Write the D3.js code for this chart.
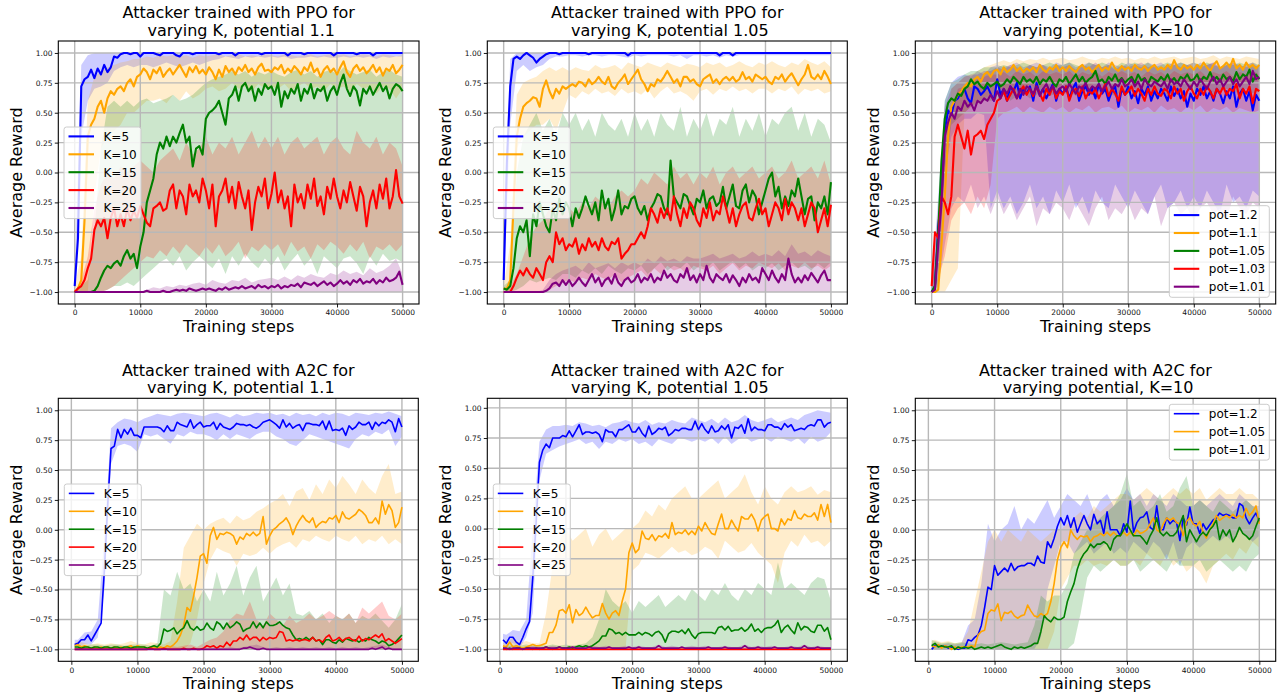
<!DOCTYPE html>
<html>
<head>
<meta charset="utf-8">
<script src="https://cdn.jsdelivr.net/npm/d3@7"></script>
<style>
  body { margin: 0; background: #fff; }
  svg { display: block; }
  text { font-family: "DejaVu Sans", sans-serif; }
</style>
</head>
<body>
<svg id="chart" width="1279" height="696"></svg>
<script>
// ---- x positions (training steps) ----
const ppoSteps = d3.range(0, 50001, 500);           // PPO mean curves
const ppoBandSteps = d3.range(0, 50001, 1000);      // PPO min/max bands
const a2cSteps = d3.range(500, 50001, 500);         // A2C mean curves
const a2cBandSteps = [500].concat(d3.range(1000, 50001, 1000)); // A2C bands

const xTicks = [0, 10000, 20000, 30000, 40000, 50000];
const yTicks = [-1, -0.75, -0.5, -0.25, 0, 0.25, 0.5, 0.75, 1];

const kLabels = ["K=5", "K=10", "K=15", "K=20", "K=25"];
const ppoPotLabels = ["pot=1.2", "pot=1.1", "pot=1.05", "pot=1.03", "pot=1.01"];
const a2cPotLabels = ["pot=1.2", "pot=1.05", "pot=1.01"];

// ---- PPO, varying K, potential 1.1 ----
const ppo11_k5 = [
-0.95,-0.55,0.72,0.78,0.8,0.86,0.79,0.87,0.82,0.9,
0.84,0.88,0.97,0.96,0.99,1,1,0.99,1,1,
0.97,1,1,1,1,0.99,0.98,1,1,1,
1,0.98,0.97,1,1,1,0.99,1,1,1,
1,1,1,1,0.99,1,1,1,1,0.98,
1,1,1,1,1,1,1,0.99,1,1,
1,1,1,1,1,0.98,1,1,1,1,
0.99,1,1,1,1,1,1,1,1,0.98,
1,1,1,1,1,1,0.99,1,1,1,
1,0.98,1,1,1,1,1,1,1,1,
1];
const ppo11_k5_lo = [
-1,0.3,0.6,0.7,0.72,0.75,0.85,0.88,0.9,0.88,
0.9,0.9,0.88,0.9,0.92,0.9,0.88,0.9,0.92,0.9,
0.92,0.94,0.95,0.97,0.96,0.95,0.97,0.96,0.97,0.96,
0.97,0.96,0.97,0.95,0.96,0.96,0.97,0.96,0.97,0.96,
0.96,0.97,0.96,0.97,0.96,0.97,0.95,0.97,0.96,0.97,
0.97];
const ppo11_k5_hi = [
-0.85,0.9,0.98,1,1,1,1,1,1,1,
1,1,1,1,1,1,1,1,1,1,
1,1,1,1,1,1,1,1,1,1,
1,1,1,1,1,1,1,1,1,1,
1,1,1,1,1,1,1,1,1,1,
1];
const ppo11_k10 = [
-1,-0.97,-0.9,-0.4,0.3,0.4,0.45,0.55,0.6,0.5,
0.62,0.68,0.65,0.7,0.72,0.68,0.75,0.78,0.72,0.8,
0.82,0.87,0.84,0.78,0.86,0.83,0.88,0.8,0.84,0.87,
0.82,0.86,0.9,0.85,0.8,0.88,0.84,0.89,0.83,0.86,
0.82,0.88,0.84,0.78,0.86,0.8,0.89,0.84,0.87,0.82,
0.88,0.85,0.9,0.84,0.87,0.82,0.88,0.91,0.85,0.86,
0.84,0.88,0.86,0.9,0.83,0.87,0.84,0.89,0.86,0.82,
0.88,0.85,0.92,0.84,0.87,0.8,0.86,0.89,0.84,0.87,
0.82,0.88,0.93,0.84,0.8,0.87,0.9,0.85,0.88,0.83,
0.86,0.9,0.84,0.88,0.81,0.87,0.85,0.9,0.83,0.86,
0.9];
const ppo11_k10_lo = [
-1,-1,-1,-0.2,0.2,0.3,0.35,0.4,0.5,0.5,
0.55,0.6,0.6,0.62,0.58,0.65,0.6,0.68,0.62,0.65,
0.7,0.72,0.68,0.7,0.75,0.7,0.72,0.68,0.74,0.7,
0.72,0.7,0.74,0.68,0.72,0.75,0.7,0.72,0.68,0.74,
0.7,0.72,0.68,0.74,0.7,0.72,0.66,0.72,0.7,0.62,
0.7];
const ppo11_k10_hi = [
-0.95,-0.7,0.6,0.8,0.85,0.88,0.9,0.92,0.93,0.95,
0.95,0.97,0.96,0.98,0.97,0.98,0.97,0.98,0.96,0.98,
0.97,0.98,0.99,0.97,0.98,0.99,0.97,0.98,0.97,0.99,
0.98,0.97,0.99,0.98,0.97,0.98,0.99,0.97,0.98,0.99,
0.98,0.99,0.97,0.98,0.99,0.98,0.97,0.99,0.98,0.97,
0.98];
const ppo11_k15 = [
-1,-1,-1,-1,-1,-1,-0.99,-0.95,-0.88,-0.82,
-0.78,-0.8,-0.76,-0.74,-0.78,-0.7,-0.65,-0.72,-0.68,-0.8,
-0.62,-0.5,-0.25,-0.15,-0.05,0.15,0.25,0.2,0.3,0.22,
0.3,0.25,0.33,0.4,0.25,0.3,0.05,0.2,0.22,0.15,
0.45,0.5,0.52,0.55,0.6,0.5,0.4,0.62,0.65,0.72,
0.6,0.72,0.75,0.68,0.72,0.6,0.7,0.65,0.74,0.7,
0.72,0.65,0.75,0.55,0.68,0.62,0.7,0.66,0.74,0.6,
0.7,0.66,0.74,0.62,0.7,0.68,0.72,0.6,0.68,0.72,
0.65,0.75,0.82,0.7,0.64,0.72,0.68,0.56,0.7,0.66,
0.72,0.65,0.7,0.75,0.68,0.72,0.62,0.7,0.74,0.72,
0.68];
const ppo11_k15_lo = [
-1,-1,-1,-1,-1,-0.98,-0.95,-0.95,-0.92,-0.95,
-0.9,-0.85,-0.8,-0.75,-0.72,-0.78,-0.7,-0.82,-0.75,-0.7,
-0.75,-0.8,-0.72,-0.85,-0.7,-0.78,-0.68,-0.75,-0.8,-0.72,
-0.78,-0.7,-0.82,-0.74,-0.68,-0.78,-0.72,-0.85,-0.7,-0.75,
-0.8,-0.72,-0.7,-0.76,-0.85,-0.7,-0.78,-0.68,-0.74,-0.72,
-0.75];
const ppo11_k15_hi = [
-1,-0.95,-0.9,-0.5,0.2,0.55,0.6,0.55,0.6,0.55,
0.6,0.62,0.58,0.6,0.62,0.65,0.6,0.62,0.65,0.7,
0.75,0.78,0.8,0.82,0.85,0.82,0.85,0.8,0.84,0.82,
0.85,0.82,0.8,0.84,0.86,0.82,0.85,0.8,0.84,0.86,
0.82,0.88,0.85,0.82,0.84,0.86,0.8,0.84,0.86,0.82,
0.8];
const ppo11_k20 = [
-1,-0.97,-0.95,-0.9,-0.8,-0.72,-0.48,-0.4,-0.45,-0.38,
-0.55,-0.38,-0.3,-0.45,-0.35,-0.45,-0.3,-0.4,-0.32,-0.38,
-0.28,-0.35,-0.42,-0.45,-0.3,-0.28,-0.25,-0.32,-0.3,-0.15,
-0.1,-0.3,-0.15,-0.2,-0.35,-0.1,-0.2,-0.15,-0.25,-0.05,
-0.15,-0.3,-0.1,-0.45,-0.2,-0.15,-0.05,-0.25,-0.12,-0.3,
-0.08,-0.2,-0.3,-0.15,-0.48,-0.25,-0.12,-0.2,-0.05,-0.3,
-0.18,0,-0.25,-0.15,-0.3,-0.2,-0.45,-0.1,-0.25,-0.18,
-0.3,-0.1,-0.22,-0.05,-0.28,-0.2,-0.35,-0.12,-0.22,-0.05,
-0.2,-0.3,-0.15,-0.25,-0.08,-0.2,-0.32,-0.12,-0.2,-0.45,
-0.25,-0.15,-0.3,-0.1,-0.22,-0.05,-0.3,-0.2,0.02,-0.2,
-0.26];
const ppo11_k20_lo = [
-1,-1,-1,-1,-1,-0.98,-0.95,-0.9,-0.85,-0.8,
-0.75,-0.7,-0.72,-0.65,-0.7,-0.62,-0.68,-0.6,-0.65,-0.7,
-0.62,-0.68,-0.6,-0.7,-0.65,-0.58,-0.72,-0.62,-0.66,-0.6,
-0.65,-0.6,-0.7,-0.58,-0.66,-0.62,-0.72,-0.6,-0.65,-0.58,
-0.62,-0.68,-0.6,-0.66,-0.58,-0.72,-0.62,-0.65,-0.6,-0.66,
-0.6];
const ppo11_k20_hi = [
-1,-0.9,-0.7,-0.3,-0.1,0,-0.05,0.05,0,0.05,
0.1,0.05,0,0.1,0.15,0.2,0.1,0.25,0.15,0.2,
0.3,0.15,0.25,0.2,0.3,0.15,0.25,0.35,0.2,0.3,
0.2,0.3,0.15,0.25,0.3,0.2,0.25,0.3,0.15,0.25,
0.3,0.2,0.15,0.35,0.25,0.2,0.3,0.15,0.25,0.2,
0.05];
const ppo11_k25 = [
-1,-1,-1,-1,-1,-1,-1,-1,-1,-1,
-1,-1,-1,-1,-1,-1,-1,-1,-1,-1,
-1,-1,-0.99,-1,-1,-1,-1,-0.99,-1,-1,
-0.99,-0.98,-0.99,-0.98,-0.99,-0.97,-0.98,-0.99,-0.98,-0.97,
-0.98,-0.97,-0.98,-0.99,-0.97,-0.98,-0.96,-0.98,-0.97,-0.96,
-0.97,-0.95,-0.97,-0.96,-0.95,-0.97,-0.94,-0.96,-0.95,-0.97,
-0.95,-0.96,-0.94,-0.97,-0.95,-0.96,-0.94,-0.95,-0.93,-0.96,
-0.92,-0.93,-0.94,-0.92,-0.95,-0.93,-0.91,-0.94,-0.92,-0.95,
-0.93,-0.9,-0.93,-0.91,-0.94,-0.9,-0.92,-0.89,-0.93,-0.91,
-0.92,-0.89,-0.93,-0.9,-0.92,-0.88,-0.91,-0.9,-0.88,-0.83,
-0.94];
const ppo11_k25_lo = [
-1,-1,-1,-1,-1,-1,-1,-1,-1,-1,
-1,-1,-1,-1,-1,-1,-1,-1,-1,-1,
-1,-1,-1,-1,-1,-1,-1,-1,-1,-1,
-1,-1,-1,-1,-1,-1,-1,-1,-1,-1,
-1,-1,-1,-1,-1,-1,-1,-1,-1,-1,
-1];
const ppo11_k25_hi = [
-1,-1,-1,-1,-1,-1,-1,-1,-1,-1,
-1,-0.98,-0.96,-0.97,-0.95,-0.96,-0.94,-0.95,-0.93,-0.92,
-0.94,-0.9,-0.92,-0.93,-0.9,-0.91,-0.88,-0.92,-0.9,-0.89,
-0.88,-0.9,-0.87,-0.9,-0.86,-0.88,-0.85,-0.87,-0.88,-0.84,
-0.86,-0.82,-0.85,-0.83,-0.86,-0.8,-0.84,-0.82,-0.78,-0.72,
-0.85];

// ---- PPO, varying K, potential 1.05 ----
const ppo105_k5 = [
-0.9,0.1,0.72,0.95,0.97,0.95,0.98,1,0.98,0.96,
0.92,0.95,0.97,0.99,1,1,1,0.99,1,1,
1,1,1,1,1,1,0.99,1,1,1,
1,1,1,1,1,1,1,1,0.98,1,
1,1,1,1,1,1,1,1,1,1,
1,1,1,1,1,1,1,1,1,1,
1,1,1,1,1,1,0.98,1,1,1,
0.98,1,1,1,1,1,1,1,1,1,
1,1,1,1,1,1,1,1,1,1,
1,1,1,1,1,1,1,1,1,1,
1];
const ppo105_k5_lo = [
-1,0.4,0.85,0.9,0.85,0.88,0.9,0.95,0.97,0.97,
0.98,0.98,0.97,0.98,0.98,0.97,0.98,0.98,0.97,0.96,
0.98,0.97,0.98,0.98,0.98,0.98,0.97,0.98,0.95,0.98,
0.98,0.97,0.98,0.96,0.98,0.97,0.98,0.98,0.98,0.98,
0.98,0.98,0.98,0.98,0.98,0.98,0.98,0.98,0.98,0.98,
0.98];
const ppo105_k5_hi = [
-0.8,0.95,1,1,1,1,1,1,1,1,
1,1,1,1,1,1,1,1,1,1,
1,1,1,1,1,1,1,1,1,1,
1,1,1,1,1,1,1,1,1,1,
1,1,1,1,1,1,1,1,1,1,
1];
const ppo105_k10 = [
-0.97,-0.97,-0.9,-0.3,0.3,0.45,0.55,0.58,0.6,0.63,
0.62,0.55,0.7,0.77,0.68,0.62,0.7,0.66,0.72,0.7,
0.72,0.74,0.72,0.76,0.75,0.72,0.78,0.74,0.76,0.8,
0.76,0.74,0.8,0.72,0.7,0.75,0.78,0.82,0.74,0.78,
0.82,0.86,0.78,0.74,0.68,0.74,0.72,0.78,0.76,0.8,
0.85,0.8,0.75,0.78,0.72,0.8,0.8,0.76,0.78,0.74,
0.72,0.78,0.8,0.82,0.75,0.78,0.74,0.78,0.8,0.77,
0.8,0.76,0.78,0.84,0.78,0.8,0.76,0.82,0.8,0.78,
0.8,0.76,0.74,0.8,0.78,0.82,0.76,0.8,0.83,0.78,
0.73,0.78,0.82,0.9,0.8,0.78,0.82,0.78,0.85,0.8,
0.74];
const ppo105_k10_lo = [
-1,-1,0.2,0.3,0.35,0.4,0.4,0.45,0.35,0.5,
0.65,0.62,0.68,0.65,0.7,0.66,0.68,0.64,0.7,0.66,
0.68,0.65,0.7,0.62,0.68,0.72,0.66,0.68,0.65,0.6,
0.68,0.7,0.65,0.7,0.68,0.72,0.68,0.7,0.66,0.7,
0.7,0.66,0.7,0.68,0.72,0.65,0.7,0.68,0.7,0.66,
0.68];
const ppo105_k10_hi = [
-0.95,-0.6,0.65,0.75,0.78,0.8,0.85,0.88,0.85,0.88,
0.85,0.88,0.86,0.85,0.9,0.87,0.88,0.9,0.86,0.92,
0.9,0.88,0.92,0.9,0.88,0.92,0.9,0.88,0.91,0.9,
0.88,0.92,0.9,0.92,0.88,0.9,0.93,0.9,0.88,0.92,
0.9,0.93,0.9,0.88,0.92,0.9,0.95,0.92,0.9,0.93,
0.88];
const ppo105_k15 = [
-0.97,-0.98,-0.95,-0.8,-0.55,-0.45,-0.5,-0.4,-0.7,-0.35,
-0.45,-0.25,-0.35,-0.45,-0.5,-0.3,-0.4,-0.22,-0.35,-0.25,
-0.3,-0.45,-0.3,-0.38,-0.3,-0.2,-0.28,-0.35,-0.25,-0.4,
-0.15,-0.3,-0.22,-0.4,-0.3,-0.15,-0.35,-0.28,-0.3,-0.22,
-0.2,-0.3,-0.35,-0.28,-0.4,-0.3,-0.25,-0.18,-0.2,-0.3,
-0.35,0.1,-0.2,-0.25,-0.3,-0.18,-0.2,-0.28,-0.35,-0.22,
-0.25,-0.15,-0.3,-0.22,-0.2,-0.28,-0.25,-0.12,-0.3,-0.2,
-0.1,-0.28,-0.3,-0.15,-0.1,-0.25,-0.15,-0.2,-0.35,-0.25,
-0.15,-0.05,0,-0.2,-0.12,-0.3,-0.2,-0.28,-0.15,-0.2,
-0.05,-0.2,-0.35,-0.22,-0.2,-0.4,-0.25,-0.3,-0.2,-0.35,
-0.08];
const ppo105_k15_lo = [
-1,-1,-0.98,-0.95,-0.9,-0.92,-0.9,-0.88,-0.9,-0.85,
-0.85,-0.88,-0.82,-0.85,-0.8,-0.85,-0.78,-0.82,-0.85,-0.8,
-0.82,-0.78,-0.85,-0.8,-0.75,-0.82,-0.78,-0.8,-0.75,-0.82,
-0.78,-0.8,-0.75,-0.82,-0.78,-0.74,-0.8,-0.76,-0.82,-0.78,
-0.8,-0.76,-0.82,-0.78,-0.75,-0.8,-0.78,-0.82,-0.76,-0.8,
-0.75];
const ppo105_k15_hi = [
-0.95,-0.9,0,0.3,0.4,0.5,0.35,0.45,0.3,0.5,
0.4,0.5,0.35,0.45,0.3,0.5,0.4,0.35,0.45,0.3,
0.5,0.35,0.45,0.3,0.5,0.4,0.35,0.55,0.3,0.45,
0.35,0.5,0.3,0.45,0.4,0.55,0.3,0.45,0.35,0.5,
0.3,0.45,0.4,0.5,0.55,0.35,0.5,0.3,0.45,0.4,
0.25];
const ppo105_k20 = [
-1,-1,-1,-0.95,-0.88,-0.82,-0.86,-0.8,-0.85,-0.88,
-0.8,-0.85,-0.9,-0.75,-0.7,-0.75,-0.5,-0.6,-0.55,-0.65,
-0.6,-0.62,-0.55,-0.68,-0.6,-0.65,-0.55,-0.62,-0.58,-0.65,
-0.55,-0.62,-0.65,-0.58,-0.6,-0.55,-0.72,-0.68,-0.65,-0.6,
-0.6,-0.55,-0.5,-0.55,-0.45,-0.3,-0.35,-0.42,-0.3,-0.38,
-0.3,-0.4,-0.2,-0.35,-0.45,-0.3,-0.38,-0.25,-0.3,-0.4,
-0.45,-0.3,-0.38,-0.25,-0.4,-0.32,-0.35,-0.2,-0.3,-0.42,
-0.3,-0.45,-0.35,-0.28,-0.25,-0.38,-0.4,-0.3,-0.22,-0.35,
-0.3,-0.45,-0.35,-0.25,-0.3,-0.4,-0.22,-0.35,-0.25,-0.3,
-0.4,-0.3,-0.45,-0.35,-0.25,-0.3,-0.5,-0.4,-0.3,-0.45,
-0.27];
const ppo105_k20_lo = [
-1,-1,-1,-1,-1,-1,-1,-0.98,-0.95,-0.92,
-0.9,-0.92,-0.88,-0.9,-0.85,-0.88,-0.9,-0.85,-0.92,-0.88,
-0.85,-0.82,-0.88,-0.8,-0.85,-0.78,-0.82,-0.8,-0.85,-0.78,
-0.8,-0.82,-0.78,-0.85,-0.8,-0.76,-0.82,-0.78,-0.8,-0.75,
-0.78,-0.8,-0.76,-0.82,-0.78,-0.8,-0.75,-0.8,-0.78,-0.82,
-0.78];
const ppo105_k20_hi = [
-1,-0.95,-0.85,-0.7,-0.55,-0.45,-0.4,-0.3,-0.35,-0.3,
-0.3,-0.35,-0.25,-0.3,-0.2,-0.25,-0.3,-0.2,-0.15,-0.2,
-0.15,-0.05,-0.1,0,-0.05,-0.1,0.05,-0.05,0,-0.1,
0,-0.05,0.05,-0.1,0,0.05,-0.05,0,0.05,-0.05,
0,0.05,-0.05,0,0.1,-0.05,0,0.05,-0.05,0.1,
-0.1];
const ppo105_k25 = [
-1,-1,-1,-1,-1,-1,-1,-1,-1,-1,
-1,-1,-1,-0.99,-0.97,-0.93,-0.92,-0.95,-0.9,-0.94,
-0.9,-0.95,-0.92,-0.88,-0.92,-0.95,-0.9,-0.85,-0.92,-0.88,
-0.95,-0.9,-0.88,-0.93,-0.85,-0.92,-0.95,-0.9,-0.88,-0.92,
-0.9,-0.85,-0.92,-0.88,-0.9,-0.85,-0.92,-0.88,-0.9,-0.82,
-0.88,-0.85,-0.9,-0.92,-0.85,-0.88,-0.8,-0.9,-0.86,-0.92,
-0.85,-0.9,-0.78,-0.88,-0.92,-0.85,-0.88,-0.9,-0.85,-0.92,
-0.86,-0.9,-0.95,-0.88,-0.92,-0.85,-0.9,-0.88,-0.92,-0.8,
-0.85,-0.9,-0.82,-0.88,-0.92,-0.85,-0.9,-0.72,-0.85,-0.92,
-0.88,-0.92,-0.86,-0.9,-0.84,-0.88,-0.92,-0.86,-0.82,-0.9,
-0.9];
const ppo105_k25_lo = [
-1,-1,-1,-1,-1,-1,-1,-1,-1,-1,
-1,-1,-1,-1,-1,-1,-1,-1,-1,-1,
-1,-1,-1,-1,-1,-1,-1,-1,-1,-1,
-1,-1,-1,-1,-1,-1,-1,-1,-1,-1,
-1,-1,-1,-1,-1,-1,-1,-1,-1,-1,
-1];
const ppo105_k25_hi = [
-1,-1,-1,-1,-1,-1,-0.98,-0.9,-0.85,-0.82,
-0.8,-0.78,-0.82,-0.75,-0.8,-0.78,-0.76,-0.8,-0.75,-0.78,
-0.75,-0.78,-0.72,-0.76,-0.7,-0.74,-0.72,-0.75,-0.7,-0.72,
-0.72,-0.7,-0.68,-0.72,-0.7,-0.68,-0.72,-0.7,-0.66,-0.7,
-0.68,-0.7,-0.65,-0.7,-0.6,-0.68,-0.66,-0.7,-0.65,-0.68,
-0.7];

// ---- PPO, varying potential, K=10 ----
const ppoPot_12 = [
-1,-0.95,-0.45,-0.2,0.35,0.52,0.48,0.6,0.62,0.68,
0.7,0.62,0.58,0.72,0.7,0.65,0.68,0.72,0.66,0.6,
0.78,0.65,0.7,0.6,0.72,0.68,0.75,0.62,0.7,0.66,
0.72,0.6,0.75,0.65,0.7,0.62,0.68,0.74,0.6,0.7,
0.66,0.72,0.62,0.7,0.75,0.6,0.68,0.72,0.65,0.7,
0.62,0.74,0.66,0.7,0.6,0.68,0.72,0.55,0.7,0.65,
0.72,0.62,0.68,0.58,0.7,0.65,0.72,0.6,0.68,0.62,
0.7,0.66,0.6,0.72,0.64,0.7,0.62,0.68,0.55,0.66,
0.6,0.7,0.65,0.72,0.62,0.68,0.6,0.7,0.66,0.58,
0.68,0.62,0.72,0.55,0.66,0.7,0.6,0.68,0.52,0.65,
0.6];
const ppoPot_12_lo = [
-1,-0.8,0,0.3,0.4,0.45,0.45,0.5,0.48,-0.3,
-0.15,-0.3,-0.2,-0.35,-0.25,-0.1,-0.3,-0.2,-0.35,-0.15,
-0.25,-0.1,-0.3,-0.2,-0.35,-0.15,-0.25,-0.3,-0.1,-0.2,
-0.3,-0.15,-0.25,-0.35,-0.2,-0.1,-0.3,-0.25,-0.15,-0.3,
-0.2,-0.3,-0.15,-0.25,-0.35,-0.1,-0.25,-0.2,-0.3,-0.15,
-0.2];
const ppoPot_12_hi = [
-0.95,-0.2,0.6,0.75,0.8,0.82,0.8,0.85,0.82,0.88,
0.9,0.88,0.9,0.92,0.88,0.9,0.92,0.9,0.88,0.92,
0.9,0.92,0.88,0.9,0.92,0.9,0.88,0.92,0.9,0.88,
0.92,0.9,0.88,0.92,0.9,0.92,0.88,0.9,0.92,0.9,
0.88,0.92,0.9,0.92,0.88,0.9,0.92,0.9,0.88,0.9,
0.88];
const ppoPot_11 = [
-1,-1,-0.98,-0.6,-0.2,0.3,0.55,0.6,0.65,0.68,
0.72,0.75,0.72,0.78,0.8,0.76,0.82,0.84,0.8,0.85,
0.86,0.82,0.88,0.84,0.86,0.9,0.85,0.88,0.84,0.87,
0.85,0.88,0.84,0.9,0.86,0.84,0.88,0.86,0.9,0.85,
0.88,0.85,0.89,0.86,0.84,0.88,0.9,0.86,0.88,0.84,
0.87,0.9,0.85,0.88,0.86,0.92,0.87,0.85,0.89,0.86,
0.88,0.85,0.9,0.87,0.86,0.89,0.85,0.88,0.9,0.86,
0.88,0.86,0.9,0.87,0.94,0.88,0.86,0.9,0.87,0.89,
0.86,0.9,0.87,0.92,0.88,0.85,0.9,0.93,0.87,0.89,
0.92,0.88,0.95,0.87,0.9,0.86,0.92,0.88,0.9,0.87,
0.9];
const ppoPot_11_lo = [
-1,-1,-1,-0.9,-0.8,0.5,0.55,0.6,0.62,0.65,
0.68,0.7,0.68,0.72,0.7,0.74,0.7,0.72,0.75,0.7,
0.74,0.72,0.76,0.74,0.72,0.76,0.74,0.78,0.74,0.76,
0.74,0.76,0.78,0.74,0.76,0.78,0.74,0.76,0.78,0.75,
0.76,0.78,0.74,0.76,0.78,0.75,0.78,0.76,0.74,0.78,
0.76];
const ppoPot_11_hi = [
-0.98,-0.9,0.2,0.7,0.75,0.8,0.82,0.85,0.88,0.9,
0.92,0.94,0.92,0.95,0.93,0.95,0.94,0.96,0.94,0.95,
0.96,0.94,0.95,0.97,0.95,0.94,0.96,0.95,0.97,0.95,
0.96,0.94,0.96,0.95,0.97,0.95,0.96,0.97,0.95,0.96,
0.97,0.95,0.96,0.98,0.95,0.97,0.96,0.95,0.97,0.96,
0.95];
const ppoPot_105 = [
-1,-0.95,-0.5,0.1,0.45,0.58,0.62,0.6,0.66,0.64,
0.7,0.72,0.78,0.74,0.76,0.72,0.7,0.75,0.72,0.74,
0.76,0.72,0.74,0.78,0.75,0.8,0.77,0.74,0.8,0.76,
0.78,0.75,0.8,0.74,0.78,0.76,0.8,0.75,0.72,0.78,
0.76,0.8,0.74,0.78,0.82,0.76,0.8,0.75,0.78,0.8,
0.85,0.76,0.78,0.74,0.8,0.77,0.82,0.76,0.79,0.75,
0.78,0.8,0.75,0.82,0.77,0.79,0.74,0.8,0.78,0.76,
0.8,0.77,0.82,0.76,0.79,0.75,0.8,0.78,0.82,0.77,
0.78,0.82,0.76,0.8,0.78,0.84,0.77,0.8,0.76,0.82,
0.78,0.8,0.76,0.84,0.78,0.82,0.8,0.86,0.76,0.82,
0.78];
const ppoPot_105_lo = [
-1,-0.98,0,0.4,0.45,0.5,0.55,0.58,0.6,0.6,
0.62,0.65,0.6,0.64,0.66,0.62,0.65,0.68,0.64,0.66,
0.65,0.68,0.64,0.66,0.7,0.65,0.68,0.66,0.64,0.68,
0.66,0.7,0.65,0.68,0.66,0.7,0.64,0.68,0.66,0.7,
0.68,0.66,0.7,0.65,0.68,0.7,0.66,0.68,0.7,0.66,
0.68];
const ppoPot_105_hi = [
-0.95,-0.5,0.6,0.75,0.78,0.82,0.85,0.85,0.88,0.88,
0.88,0.9,0.88,0.9,0.92,0.9,0.88,0.9,0.92,0.9,
0.9,0.92,0.9,0.88,0.92,0.9,0.92,0.9,0.88,0.92,
0.9,0.92,0.9,0.92,0.88,0.9,0.92,0.9,0.92,0.9,
0.92,0.9,0.92,0.9,0.88,0.92,0.9,0.92,0.9,0.92,
0.9];
const ppoPot_103 = [
-0.95,-0.5,-0.55,-0.2,-0.25,-0.35,-0.2,0.3,0.4,0.3,
0.2,0.35,0.15,0.3,0.32,0.35,0.28,0.4,0.45,0.5,
0.6,0.62,0.68,0.6,0.65,0.7,0.62,0.68,0.72,0.65,
0.7,0.64,0.72,0.66,0.6,0.7,0.65,0.72,0.62,0.68,
0.65,0.72,0.6,0.68,0.7,0.64,0.72,0.62,0.68,0.66,
0.7,0.62,0.68,0.74,0.64,0.7,0.66,0.6,0.72,0.65,
0.68,0.72,0.64,0.7,0.66,0.6,0.7,0.65,0.72,0.66,
0.64,0.7,0.68,0.62,0.72,0.66,0.7,0.6,0.68,0.72,
0.66,0.62,0.7,0.65,0.72,0.68,0.62,0.7,0.66,0.72,
0.65,0.7,0.68,0.74,0.62,0.7,0.66,0.72,0.58,0.7,
0.68];
const ppoPot_103_lo = [
-1,-0.9,-0.7,-0.4,-0.3,-0.25,-0.35,-0.2,-0.3,-0.1,
0.45,0.5,0.52,0.55,0.5,0.55,0.52,0.5,0.55,0.52,
0.55,0.5,0.54,0.52,0.56,0.5,0.54,0.55,0.52,0.56,
0.5,0.54,0.52,0.55,0.5,0.56,0.52,0.54,0.5,0.55,
0.52,0.56,0.5,0.54,0.52,0.55,0.5,0.54,0.52,0.5,
0.52];
const ppoPot_103_hi = [
-0.9,-0.3,0.3,0.5,0.7,0.72,0.75,0.78,0.8,0.82,
0.82,0.84,0.8,0.85,0.82,0.84,0.8,0.85,0.82,0.84,
0.82,0.85,0.8,0.84,0.82,0.85,0.8,0.84,0.82,0.85,
0.82,0.84,0.8,0.85,0.82,0.84,0.8,0.85,0.82,0.84,
0.82,0.85,0.8,0.84,0.82,0.85,0.8,0.84,0.82,0.85,
0.82];
const ppoPot_101 = [
-1,-0.98,-0.6,-0.25,0.3,0.42,0.5,0.45,0.55,0.52,
0.6,0.55,0.58,0.52,0.6,0.58,0.62,0.6,0.65,0.6,
0.68,0.62,0.7,0.66,0.72,0.68,0.62,0.7,0.65,0.72,
0.7,0.66,0.72,0.64,0.7,0.74,0.68,0.72,0.66,0.7,
0.72,0.68,0.74,0.7,0.66,0.72,0.7,0.75,0.68,0.72,
0.7,0.74,0.68,0.72,0.76,0.7,0.74,0.72,0.78,0.72,
0.74,0.78,0.72,0.76,0.7,0.78,0.74,0.72,0.76,0.74,
0.72,0.76,0.7,0.78,0.74,0.76,0.72,0.78,0.74,0.7,
0.76,0.72,0.78,0.74,0.7,0.76,0.8,0.74,0.78,0.72,
0.76,0.8,0.74,0.78,0.72,0.76,0.8,0.74,0.85,0.78,
0.8];
const ppoPot_101_lo = [
-1,-0.95,-0.6,-0.3,-0.2,-0.25,-0.1,-0.3,-0.2,-0.35,
-0.2,-0.35,-0.25,-0.4,-0.3,-0.2,-0.45,-0.3,-0.35,-0.25,
-0.3,-0.4,-0.25,-0.35,-0.45,-0.3,-0.2,-0.4,-0.3,-0.35,
-0.25,-0.4,-0.3,-0.35,-0.2,-0.45,-0.3,-0.25,-0.35,-0.3,
-0.4,-0.3,-0.25,-0.35,-0.3,-0.4,-0.2,-0.3,-0.35,-0.25,
-0.3];
const ppoPot_101_hi = [
-0.95,-0.6,0.55,0.7,0.75,0.8,0.82,0.82,0.85,0.85,
0.88,0.86,0.9,0.88,0.86,0.9,0.88,0.9,0.86,0.9,
0.88,0.9,0.86,0.9,0.88,0.92,0.88,0.9,0.86,0.9,
0.88,0.9,0.92,0.88,0.9,0.86,0.9,0.92,0.88,0.9,
0.92,0.88,0.9,0.92,0.88,0.9,0.92,0.88,0.9,0.92,
0.88];

// ---- A2C, varying K, potential 1.1 ----
const a2c11_k5 = [
-0.96,-0.95,-0.92,-0.92,-0.88,-0.93,-0.88,-0.83,-0.78,-0.33,
0.21,0.68,0.7,0.84,0.77,0.84,0.8,0.85,0.79,0.79,
0.77,0.86,0.86,0.86,0.86,0.86,0.85,0.82,0.87,0.83,
0.83,0.9,0.88,0.87,0.86,0.92,0.85,0.88,0.9,0.86,
0.87,0.87,0.9,0.84,0.89,0.86,0.85,0.84,0.86,0.89,
0.88,0.88,0.87,0.88,0.86,0.85,0.87,0.9,0.91,0.92,
0.9,0.88,0.85,0.92,0.86,0.89,0.85,0.87,0.88,0.83,
0.89,0.89,0.88,0.88,0.87,0.91,0.84,0.91,0.83,0.84,
0.83,0.85,0.79,0.87,0.84,0.86,0.9,0.88,0.88,0.9,
0.84,0.9,0.87,0.9,0.89,0.92,0.9,0.82,0.93,0.86];
const a2c11_k5_lo = [
-0.98,-0.97,-0.96,-0.96,-0.9,-0.5,0.55,0.7,0.72,0.7,
0.65,0.8,0.78,0.8,0.76,0.72,0.8,0.78,0.82,0.8,
0.8,0.78,0.75,0.8,0.76,0.8,0.78,0.76,0.8,0.82,
0.82,0.78,0.76,0.72,0.7,0.75,0.8,0.78,0.76,0.74,
0.72,0.7,0.68,0.76,0.8,0.78,0.82,0.8,0.84,0.7,
0.78];
const a2c11_k5_hi = [
-0.92,-0.92,-0.86,-0.85,-0.75,-0.05,0.85,0.9,0.93,0.92,
0.9,0.93,0.95,0.97,0.96,0.95,0.97,0.98,0.97,0.96,
0.95,0.97,0.98,0.96,0.94,0.97,0.95,0.96,0.98,0.97,
0.98,0.96,0.97,0.95,0.98,0.96,0.97,0.95,0.98,0.96,
0.98,0.97,0.95,0.98,0.97,0.96,0.98,0.97,0.99,0.97,
0.95];
const a2c11_k10 = [
-0.97,-0.96,-0.98,-0.97,-0.98,-0.99,-0.98,-0.99,-0.98,-0.99,
-0.98,-0.99,-0.98,-0.99,-0.98,-0.99,-0.98,-0.97,-0.99,-0.97,
-0.98,-0.98,-0.99,-0.98,-0.98,-0.99,-0.98,-0.99,-0.97,-0.98,
-0.96,-0.93,-0.88,-0.8,-0.65,-0.68,-0.55,-0.4,-0.22,-0.2,
-0.28,-0.05,0.02,-0.08,-0.03,-0.04,-0.02,-0.03,-0.05,-0.12,
-0.06,-0.08,-0.03,-0.05,-0.02,-0.05,-0.03,0.11,-0.12,-0.05,
0,0.02,0.05,0.07,0.1,0.05,-0.04,0.03,0.08,0.12,
0.08,0.06,0.1,0.02,0.05,0.07,0.06,0.1,0.09,0.12,
0.06,0.15,0.1,0.09,0.11,0.13,0.17,0.15,0.12,0.06,
0.06,0.1,0.05,0.24,0.13,0.21,0.16,0.02,0.06,0.19];
const a2c11_k10_lo = [
-1,-1,-1,-1,-1,-1,-1,-1,-1,-1,
-1,-1,-1,-1,-1,-1,-1,-1,-0.95,-0.75,
-0.45,-0.25,-0.15,-0.18,-0.2,-0.3,-0.2,-0.22,-0.2,-0.15,
-0.2,-0.15,-0.12,-0.1,-0.15,-0.08,-0.1,-0.05,-0.08,-0.1,
-0.05,-0.08,-0.1,-0.05,-0.12,-0.08,-0.1,-0.05,-0.12,-0.08,
-0.12];
const a2c11_k10_hi = [
-0.95,-0.93,-0.95,-0.96,-0.95,-0.96,-0.95,-0.96,-0.95,-0.93,
-0.95,-0.96,-0.94,-0.95,-0.96,-0.93,-0.6,-0.15,-0.05,0.05,
0,0.05,0.08,0.1,0.05,0.12,0.08,0.1,0.15,0.18,
0.22,0.25,0.3,0.2,0.32,0.35,0.25,0.38,0.3,0.42,
0.35,0.45,0.38,0.3,0.42,0.35,0.3,0.45,0.55,0.3,
0.32];
const a2c11_k15 = [
-0.98,-0.98,-0.99,-0.98,-0.98,-0.99,-0.98,-0.98,-0.99,-0.98,
-0.98,-0.99,-0.98,-0.98,-0.99,-0.98,-0.98,-0.99,-0.98,-0.98,
-0.98,-0.98,-0.99,-0.98,-0.97,-0.98,-0.95,-0.83,-0.85,-0.84,
-0.82,-0.87,-0.84,-0.82,-0.76,-0.82,-0.84,-0.81,-0.84,-0.83,
-0.78,-0.82,-0.84,-0.77,-0.79,-0.83,-0.78,-0.82,-0.8,-0.77,
-0.79,-0.85,-0.83,-0.82,-0.77,-0.82,-0.78,-0.82,-0.77,-0.8,
-0.8,-0.79,-0.77,-0.8,-0.82,-0.83,-0.88,-0.92,-0.91,-0.92,
-0.9,-0.92,-0.9,-0.93,-0.92,-0.96,-0.92,-0.92,-0.94,-0.95,
-0.92,-0.94,-0.91,-0.92,-0.93,-0.92,-0.94,-0.92,-0.93,-0.9,
-0.92,-0.93,-0.95,-0.93,-0.94,-0.97,-0.96,-0.94,-0.91,-0.88];
const a2c11_k15_lo = [
-1,-1,-1,-1,-1,-1,-1,-1,-1,-1,
-1,-1,-1,-1,-1,-1,-1,-1,-1,-1,
-1,-1,-1,-1,-1,-1,-1,-1,-1,-1,
-1,-1,-1,-1,-1,-1,-1,-1,-1,-1,
-1,-1,-1,-1,-1,-1,-1,-1,-1,-1,
-1];
const a2c11_k15_hi = [
-0.96,-0.96,-0.97,-0.96,-0.96,-0.97,-0.96,-0.96,-0.97,-0.96,
-0.96,-0.96,-0.97,-0.95,-0.5,-0.55,-0.35,-0.5,-0.45,-0.6,
-0.5,-0.6,-0.35,-0.55,-0.45,-0.3,-0.55,-0.4,-0.3,-0.6,
-0.5,-0.4,-0.55,-0.45,-0.7,-0.72,-0.68,-0.75,-0.7,-0.78,
-0.72,-0.75,-0.7,-0.78,-0.72,-0.75,-0.7,-0.76,-0.82,-0.75,
-0.62];
const a2c11_k20 = [
-1,-1,-1,-1,-1,-1,-1,-1,-1,-1,
-1,-1,-1,-1,-1,-1,-1,-1,-1,-1,
-1,-1,-1,-0.99,-1,-1,-1,-0.99,-1,-1,
-1,-1,-1,-0.99,-1,-1,-0.99,-1,-1,-0.99,
-0.97,-0.98,-0.97,-0.99,-0.97,-0.98,-0.94,-0.97,-0.93,-0.93,
-0.9,-0.92,-0.88,-0.92,-0.9,-0.9,-0.93,-0.9,-0.92,-0.9,
-0.91,-0.9,-0.85,-0.86,-0.93,-0.92,-0.93,-0.92,-0.93,-0.92,
-0.92,-0.93,-0.9,-0.93,-0.92,-0.94,-0.9,-0.88,-0.93,-0.92,
-0.9,-0.93,-0.91,-0.9,-0.92,-0.93,-0.89,-0.93,-0.91,-0.92,
-0.9,-0.88,-0.9,-0.87,-0.93,-0.91,-0.93,-0.95,-0.93,-0.91];
const a2c11_k20_lo = [
-1,-1,-1,-1,-1,-1,-1,-1,-1,-1,
-1,-1,-1,-1,-1,-1,-1,-1,-1,-1,
-1,-1,-1,-1,-1,-1,-1,-1,-1,-1,
-1,-1,-1,-1,-1,-1,-1,-1,-1,-1,
-1,-1,-1,-1,-1,-1,-1,-1,-1,-1,
-1];
const a2c11_k20_hi = [
-0.98,-0.99,-0.98,-0.99,-0.98,-0.99,-0.98,-0.99,-0.98,-0.99,
-0.98,-0.99,-0.98,-0.97,-0.98,-0.97,-0.98,-0.97,-0.96,-0.98,
-0.95,-0.92,-0.9,-0.85,-0.75,-0.7,-0.72,-0.6,-0.75,-0.8,
-0.7,-0.75,-0.8,-0.72,-0.78,-0.75,-0.7,-0.75,-0.72,-0.68,
-0.72,-0.75,-0.7,-0.78,-0.65,-0.7,-0.65,-0.6,-0.72,-0.75,
-0.7];
const a2c11_k25 = [
-1,-1,-1,-1,-1,-1,-1,-1,-1,-1,
-1,-1,-1,-1,-1,-1,-1,-1,-1,-1,
-1,-1,-1,-1,-1,-1,-1,-1,-1,-1,
-1,-1,-1,-1,-1,-1,-1,-1,-1,-1,
-1,-1,-1,-1,-1,-1,-1,-1,-1,-1,
-1,-0.99,-0.99,-0.98,-0.99,-1,-1,-0.99,-1,-1,
-1,-1,-1,-1,-1,-1,-1,-1,-1,-1,
-1,-1,-1,-1,-1,-1,-1,-1,-1,-1,
-1,-1,-1,-1,-1,-1,-1,-1,-1,-1,
-0.99,-1,-0.99,-0.98,-1,-0.99,-1,-1,-1,-1];
const a2c11_k25_lo = [
-1,-1,-1,-1,-1,-1,-1,-1,-1,-1,
-1,-1,-1,-1,-1,-1,-1,-1,-1,-1,
-1,-1,-1,-1,-1,-1,-1,-1,-1,-1,
-1,-1,-1,-1,-1,-1,-1,-1,-1,-1,
-1,-1,-1,-1,-1,-1,-1,-1,-1,-1,
-1];
const a2c11_k25_hi = [
-0.99,-0.99,-0.99,-0.99,-0.99,-0.99,-0.99,-0.99,-0.99,-0.99,
-0.99,-0.99,-0.99,-0.99,-0.99,-0.99,-0.99,-0.99,-0.99,-0.99,
-0.99,-0.99,-0.98,-0.99,-0.98,-0.99,-0.98,-0.97,-0.96,-0.98,
-0.99,-0.98,-0.99,-0.98,-0.99,-0.98,-0.99,-0.98,-0.99,-0.98,
-0.99,-0.98,-0.99,-0.98,-0.99,-0.98,-0.97,-0.96,-0.98,-0.99,
-0.99];

// ---- A2C, varying K, potential 1.05 ----
const a2c105_k5 = [
-0.92,-0.95,-0.9,-0.9,-0.94,-0.96,-0.9,-0.83,-0.77,-0.4,
0.05,0.55,0.65,0.7,0.67,0.75,0.75,0.75,0.77,0.76,
0.81,0.76,0.81,0.86,0.78,0.8,0.8,0.79,0.8,0.78,
0.72,0.82,0.8,0.8,0.76,0.82,0.82,0.84,0.86,0.8,
0.8,0.84,0.79,0.76,0.85,0.78,0.8,0.83,0.82,0.84,
0.77,0.79,0.82,0.81,0.83,0.83,0.82,0.82,0.89,0.82,
0.87,0.82,0.79,0.85,0.8,0.81,0.85,0.82,0.86,0.75,
0.84,0.83,0.86,0.79,0.91,0.81,0.84,0.82,0.82,0.81,
0.86,0.86,0.84,0.84,0.82,0.87,0.84,0.86,0.81,0.82,
0.83,0.82,0.85,0.86,0.85,0.9,0.9,0.84,0.87,0.88];
const a2c105_k5_lo = [
-0.96,-0.98,-0.95,-0.99,-0.9,-0.7,0.4,0.62,0.65,0.68,
0.7,0.72,0.74,0.7,0.72,0.66,0.72,0.7,0.74,0.72,
0.74,0.7,0.72,0.68,0.74,0.72,0.7,0.75,0.74,0.72,
0.74,0.72,0.75,0.7,0.76,0.7,0.74,0.76,0.72,0.74,
0.75,0.72,0.76,0.74,0.72,0.75,0.7,0.76,0.72,0.74,
0.8];
const a2c105_k5_hi = [
-0.87,-0.88,-0.84,-0.85,-0.75,0,0.72,0.82,0.85,0.85,
0.86,0.85,0.88,0.87,0.85,0.86,0.84,0.87,0.88,0.9,
0.88,0.87,0.9,0.86,0.88,0.87,0.9,0.88,0.87,0.92,
0.9,0.88,0.91,0.87,0.92,0.88,0.9,0.94,0.9,0.88,
0.9,0.92,0.88,0.9,0.92,0.9,0.94,0.96,0.98,0.97,
0.96];
const a2c105_k10 = [
-0.97,-0.98,-0.94,-0.98,-0.97,-0.98,-0.99,-0.98,-0.97,-0.96,
-0.97,-0.97,-0.96,-0.95,-0.86,-0.86,-0.8,-0.68,-0.67,-0.7,
-0.63,-0.78,-0.67,-0.72,-0.7,-0.65,-0.7,-0.74,-0.72,-0.72,
-0.62,-0.7,-0.75,-0.7,-0.68,-0.72,-0.6,-0.5,-0.2,-0.12,
-0.2,-0.17,-0.02,-0.08,-0.09,-0.05,-0.1,-0.06,-0.07,-0.04,
-0.08,0.05,-0.05,-0.03,-0.04,-0.01,-0.05,-0.02,-0.05,0.02,
-0.02,0.05,0,-0.04,-0.05,0.04,0.12,0,0,0.07,
0.02,-0.02,0.1,0.08,0.08,0.12,0.07,-0.02,0.07,0.1,
0.12,0,0,-0.02,0.08,0.03,0.08,0.07,0.15,0.09,
0.08,0.12,0.1,0.1,0.13,0.07,0.2,0.1,0.2,0.05];
const a2c105_k10_lo = [
-1,-1,-1,-1,-1,-1,-1,-1,-1,-1,
-1,-1,-1,-1,-1,-1,-1,-1,-1,-1,
-0.35,-0.3,-0.2,-0.22,-0.25,-0.2,-0.15,-0.2,-0.18,-0.22,
-0.2,-0.15,-0.18,-0.25,-0.1,-0.15,-0.2,-0.18,-0.12,-0.2,
-0.25,-0.3,-0.45,-0.2,-0.1,-0.15,-0.05,-0.12,-0.1,-0.15,
-0.1];
const a2c105_k10_hi = [
-0.95,-0.95,-0.9,-0.95,-0.93,-0.95,-0.95,-0.7,-0.3,-0.1,
0,-0.1,-0.05,0,-0.15,-0.05,0,-0.1,-0.05,0,
0,0.05,0.15,0.1,0.2,0.15,0.25,0.3,0.35,0.25,
0.25,0.3,0.35,0.4,0.25,0.3,0.35,0.45,0.3,0.2,
0.35,0.25,0.2,0.3,0.35,0.3,0.32,0.35,0.28,0.32,
0.3];
const a2c105_k15 = [
-0.99,-1,-0.99,-1,-0.99,-0.99,-1,-0.99,-0.99,-1,
-0.99,-1,-0.99,-0.98,-0.99,-1,-0.99,-0.98,-0.99,-0.99,
-0.98,-0.99,-0.98,-0.97,-0.98,-0.97,-0.98,-0.97,-0.95,-0.93,
-0.89,-0.89,-0.83,-0.84,-0.87,-0.86,-0.88,-0.86,-0.88,-0.88,
-0.88,-0.86,-0.88,-0.86,-0.87,-0.89,-0.86,-0.85,-0.88,-0.94,
-0.87,-0.85,-0.85,-0.86,-0.84,-0.87,-0.83,-0.88,-0.91,-0.87,
-0.86,-0.86,-0.86,-0.86,-0.87,-0.82,-0.81,-0.84,-0.81,-0.85,
-0.84,-0.84,-0.82,-0.85,-0.83,-0.79,-0.85,-0.83,-0.86,-0.83,
-0.82,-0.82,-0.8,-0.76,-0.86,-0.82,-0.8,-0.84,-0.87,-0.78,
-0.84,-0.81,-0.82,-0.85,-0.86,-0.8,-0.8,-0.85,-0.82,-0.92];
const a2c105_k15_lo = [
-1,-1,-1,-1,-1,-1,-1,-1,-1,-1,
-1,-1,-1,-1,-1,-1,-1,-1,-1,-1,
-1,-1,-1,-1,-1,-1,-1,-1,-1,-1,
-1,-1,-1,-1,-1,-1,-1,-1,-1,-1,
-1,-1,-1,-1,-1,-1,-1,-1,-1,-1,
-1];
const a2c105_k15_hi = [
-0.97,-0.97,-0.96,-0.97,-0.96,-0.97,-0.96,-0.97,-0.96,-0.97,
-0.96,-0.97,-0.96,-0.95,-0.9,-0.75,-0.5,-0.6,-0.65,-0.6,
-0.7,-0.6,-0.65,-0.6,-0.55,-0.65,-0.6,-0.55,-0.6,-0.5,
-0.55,-0.6,-0.5,-0.55,-0.45,-0.55,-0.6,-0.5,-0.55,-0.45,
-0.5,-0.55,-0.28,-0.5,-0.45,-0.5,-0.55,-0.45,-0.4,-0.42,
-0.6];
const a2c105_k20 = [
-1,-1,-1,-1,-1,-1,-1,-1,-1,-1,
-1,-1,-1,-1,-1,-1,-1,-1,-1,-1,
-1,-1,-1,-1,-1,-1,-1,-1,-1,-1,
-1,-1,-1,-1,-1,-1,-1,-1,-1,-1,
-1,-1,-1,-1,-1,-1,-1,-1,-1,-1,
-1,-1,-1,-1,-1,-1,-1,-1,-1,-1,
-1,-1,-1,-1,-1,-1,-1,-1,-1,-1,
-1,-1,-1,-1,-1,-1,-1,-1,-1,-1,
-1,-1,-1,-1,-1,-1,-1,-1,-1,-1,
-1,-1,-1,-1,-1,-1,-1,-1,-1,-1];
const a2c105_k20_lo = [
-1,-1,-1,-1,-1,-1,-1,-1,-1,-1,
-1,-1,-1,-1,-1,-1,-1,-1,-1,-1,
-1,-1,-1,-1,-1,-1,-1,-1,-1,-1,
-1,-1,-1,-1,-1,-1,-1,-1,-1,-1,
-1,-1,-1,-1,-1,-1,-1,-1,-1,-1,
-1];
const a2c105_k20_hi = [
-0.99,-0.99,-0.99,-0.99,-0.99,-0.99,-0.99,-0.99,-0.99,-0.99,
-0.99,-0.99,-0.99,-0.99,-0.99,-0.99,-0.99,-0.99,-0.99,-0.99,
-0.99,-0.99,-0.99,-0.99,-0.99,-0.99,-0.99,-0.99,-0.99,-0.99,
-0.99,-0.99,-0.99,-0.99,-0.99,-0.99,-0.99,-0.99,-0.99,-0.99,
-0.99,-0.99,-0.99,-0.99,-0.99,-0.99,-0.99,-0.99,-0.99,-0.99,
-0.99];
const a2c105_k25 = [
-0.99,-0.99,-1,-0.99,-0.99,-0.99,-1,-0.99,-0.99,-0.99,
-0.99,-0.99,-0.99,-0.98,-0.99,-0.99,-0.99,-0.98,-0.99,-0.99,
-0.99,-0.98,-0.99,-0.99,-0.99,-0.99,-0.98,-0.99,-0.99,-0.99,
-0.99,-0.99,-0.98,-0.99,-0.99,-0.99,-0.99,-0.99,-0.98,-0.99,
-0.99,-0.98,-0.99,-0.99,-0.99,-0.99,-0.99,-0.97,-0.99,-0.99,
-0.99,-0.99,-0.99,-0.99,-0.98,-0.99,-0.99,-0.99,-0.99,-0.99,
-0.99,-0.99,-0.98,-0.99,-0.99,-0.99,-0.99,-0.98,-0.99,-0.99,
-0.99,-0.99,-0.99,-0.97,-0.99,-0.99,-0.99,-0.98,-0.99,-0.99,
-0.99,-0.99,-0.98,-0.99,-0.99,-0.99,-0.99,-0.98,-0.99,-0.99,
-0.99,-0.97,-0.99,-0.99,-0.99,-0.98,-0.99,-0.99,-0.99,-0.99];
const a2c105_k25_lo = [
-1,-1,-1,-1,-1,-1,-1,-1,-1,-1,
-1,-1,-1,-1,-1,-1,-1,-1,-1,-1,
-1,-1,-1,-1,-1,-1,-1,-1,-1,-1,
-1,-1,-1,-1,-1,-1,-1,-1,-1,-1,
-1,-1,-1,-1,-1,-1,-1,-1,-1,-1,
-1];
const a2c105_k25_hi = [
-0.98,-0.98,-0.97,-0.98,-0.98,-0.97,-0.98,-0.98,-0.97,-0.98,
-0.98,-0.97,-0.98,-0.98,-0.97,-0.98,-0.97,-0.98,-0.98,-0.97,
-0.98,-0.97,-0.98,-0.98,-0.96,-0.98,-0.97,-0.98,-0.98,-0.97,
-0.98,-0.97,-0.98,-0.98,-0.97,-0.98,-0.98,-0.96,-0.98,-0.97,
-0.98,-0.97,-0.98,-0.98,-0.97,-0.98,-0.96,-0.98,-0.97,-0.98,
-0.98];

// ---- A2C, varying potential, K=10 ----
const a2cPot_12 = [
-1,-0.97,-0.97,-0.98,-0.97,-0.99,-0.98,-0.99,-1,-0.99,
-0.99,-0.92,-0.93,-0.9,-0.88,-0.8,-0.65,-0.48,-0.5,-0.3,
-0.38,-0.35,-0.32,-0.35,-0.28,-0.34,-0.31,-0.3,-0.3,-0.28,
-0.28,-0.3,-0.22,-0.27,-0.28,-0.1,-0.15,-0.07,0.03,0.1,
0.04,0.12,0.02,0.1,-0.02,0.05,0.12,0.05,0,0.13,
0.05,0.08,-0.03,0.15,0,0,0,-0.05,0.05,-0.02,
0.24,-0.02,0.06,0.1,0.11,0.15,0.02,0,0.2,0,
0,0.1,0.05,0.08,0.06,-0.09,0.1,0.04,0.19,0.05,
0.05,-0.03,0.05,0,0.04,0.08,0.1,0.14,0.12,0.13,
0.12,0.1,0.1,0.22,0.2,0.1,0.05,0.1,0.14,0.07];
const a2cPot_12_lo = [
-1,-1,-1,-1,-1,-1,-1,-1,-1,-1,
-1,-1,-1,-1,-1,-1,-1,-0.9,-0.5,-0.3,
-0.1,-0.1,-0.2,-0.15,-0.1,-0.2,-0.15,-0.1,-0.2,-0.15,
-0.2,-0.1,-0.15,-0.2,-0.1,-0.15,-0.25,-0.1,-0.3,-0.15,
-0.1,-0.15,-0.1,-0.05,-0.1,-0.05,-0.1,0,-0.05,-0.1,
-0.05];
const a2cPot_12_hi = [
-0.95,-0.95,-0.96,-0.95,-0.96,-0.95,-0.8,-0.75,-0.45,0.05,
-0.1,0,0.05,0.2,0,0.1,0.05,0.15,0.25,0.1,
0.2,0.3,0.25,0.2,0.3,0.15,0.25,0.3,0.2,0.25,
0.35,0.25,0.3,0.2,0.3,0.25,0.2,0.3,0.25,0.2,
0.2,0.25,0.2,0.25,0.3,0.25,0.2,0.3,0.25,0.2,
0.2];
const a2cPot_105 = [
-0.97,-0.98,-0.96,-0.99,-0.97,-0.98,-1,-0.98,-0.99,-0.98,
-0.98,-0.98,-0.97,-0.98,-0.88,-0.85,-0.84,-0.7,-0.67,-0.68,
-0.62,-0.76,-0.69,-0.7,-0.68,-0.72,-0.74,-0.72,-0.71,-0.63,
-0.68,-0.72,-0.73,-0.7,-0.72,-0.7,-0.6,-0.45,-0.25,-0.15,
-0.1,-0.15,0,-0.05,-0.08,-0.05,-0.06,-0.05,-0.1,-0.06,
-0.05,-0.03,-0.05,-0.02,-0.05,-0.02,-0.05,-0.05,-0.02,-0.05,
-0.02,-0.05,0,-0.03,-0.02,0,0.05,0.1,0,-0.02,
0.05,0.1,0.08,0.1,0.06,0.05,-0.05,0.07,0.1,0.05,
0.03,0.07,-0.02,-0.07,0,0.05,0.12,0.08,0.1,0.12,
0.1,0.13,0.1,0.12,0.1,0.18,0.12,0.15,0.2,0.05];
const a2cPot_105_lo = [
-1,-1,-1,-1,-1,-1,-1,-1,-1,-1,
-1,-1,-1,-1,-1,-1,-1,-1,-1,-0.85,
-0.5,-0.4,-0.3,-0.3,-0.25,-0.3,-0.28,-0.3,-0.25,-0.3,
-0.3,-0.25,-0.3,-0.2,-0.25,-0.3,-0.2,-0.3,-0.25,-0.35,
-0.3,-0.35,-0.45,-0.3,-0.25,-0.2,-0.25,-0.15,-0.2,-0.1,
-0.15];
const a2cPot_105_hi = [
-0.93,-0.92,-0.94,-0.93,-0.95,-0.94,-0.85,-0.6,-0.35,-0.1,
0,-0.1,0,-0.05,-0.1,0,-0.05,-0.1,-0.05,0,
0,0.05,0.1,0.15,0.1,0.2,0.15,0.2,0.25,0.3,
0.3,0.25,0.3,0.35,0.3,0.25,0.3,0.35,0.3,0.35,
0.3,0.35,0.25,0.3,0.35,0.3,0.3,0.35,0.3,0.3,
0.25];
const a2cPot_101 = [
-0.97,-0.95,-0.98,-0.97,-0.98,-0.98,-0.97,-1,-0.98,-0.99,
-0.98,-0.99,-0.98,-1,-0.99,-0.98,-0.99,-0.98,-0.99,-0.98,
-0.97,-0.96,-0.98,-0.99,-1,-0.98,-0.99,-0.98,-0.99,-0.98,
-0.97,-0.95,-0.95,-0.85,-0.72,-0.75,-0.77,-0.73,-0.75,-0.75,
-0.73,-0.6,-0.52,-0.45,-0.33,-0.25,-0.2,-0.17,-0.12,-0.15,
-0.12,-0.12,-0.1,-0.12,-0.17,-0.08,-0.05,-0.05,0,0.05,
0,-0.05,-0.05,-0.05,-0.08,-0.12,-0.05,0,0.1,-0.02,
-0.05,-0.02,-0.05,-0.05,-0.02,0.05,0.12,-0.1,0,-0.05,
-0.1,-0.05,-0.02,-0.05,0,0.03,0.08,-0.08,0,-0.05,
0,-0.1,-0.05,0.02,-0.03,-0.05,-0.08,-0.05,0.03,0.1];
const a2cPot_101_lo = [
-1,-1,-1,-1,-1,-1,-1,-1,-1,-1,
-1,-1,-1,-1,-1,-1,-1,-1,-1,-1,
-1,-1,-0.95,-0.7,-0.4,-0.3,-0.35,-0.3,-0.25,-0.3,
-0.3,-0.25,-0.35,-0.3,-0.25,-0.3,-0.35,-0.25,-0.3,-0.3,
-0.3,-0.25,-0.35,-0.3,-0.25,-0.3,-0.35,-0.3,-0.35,-0.25,
-0.2];
const a2cPot_101_hi = [
-0.92,-0.93,-0.95,-0.94,-0.95,-0.94,-0.95,-0.96,-0.95,-0.96,
-0.95,-0.94,-0.95,-0.96,-0.95,-0.94,-0.8,-0.55,-0.6,-0.55,
-0.55,-0.45,-0.2,-0.1,0,0.05,0.1,0.15,0.2,0.3,
0.47,0.2,0.25,0.15,0.2,0.3,0.15,0.2,0.35,0.45,
0.2,0.25,0.2,0.15,0.25,0.2,0.15,0.2,0.25,0.2,
0.15];

// ---- panel definitions ----
const C = { blue: "#0000ff", orange: "#ffa500", green: "#008000", red: "#ff0000", purple: "#800080" };
const kColors = [C.blue, C.orange, C.green, C.red, C.purple];

function series(labels, colors, means, los, his) {
  return labels.map((label, i) => ({ label, color: colors[i], mean: means[i], lo: los[i], hi: his[i] }));
}

const panels = [
  {
    title: ["Attacker trained with PPO for", " varying K, potential 1.1"],
    box: [58.3, 41, 360.7, 263], xDomain: [-2500, 52500], yDomain: [-1.1, 1.1],
    steps: ppoSteps, bandSteps: ppoBandSteps, lineWidth: 2.1,
    legend: { x: 64, y: 127 },
    series: series(kLabels, kColors,
      [ppo11_k5, ppo11_k10, ppo11_k15, ppo11_k20, ppo11_k25],
      [ppo11_k5_lo, ppo11_k10_lo, ppo11_k15_lo, ppo11_k20_lo, ppo11_k25_lo],
      [ppo11_k5_hi, ppo11_k10_hi, ppo11_k15_hi, ppo11_k20_hi, ppo11_k25_hi])
  },
  {
    title: ["Attacker trained with PPO for", " varying K, potential 1.05"],
    box: [487.3, 41, 360, 263], xDomain: [-2500, 52500], yDomain: [-1.1, 1.1],
    steps: ppoSteps, bandSteps: ppoBandSteps, lineWidth: 2.1,
    legend: { x: 493.3, y: 127 },
    series: series(kLabels, kColors,
      [ppo105_k5, ppo105_k10, ppo105_k15, ppo105_k20, ppo105_k25],
      [ppo105_k5_lo, ppo105_k10_lo, ppo105_k15_lo, ppo105_k20_lo, ppo105_k25_lo],
      [ppo105_k5_hi, ppo105_k10_hi, ppo105_k15_hi, ppo105_k20_hi, ppo105_k25_hi])
  },
  {
    title: ["Attacker trained with PPO for", " varying potential, K=10"],
    box: [915.3, 41, 360.4, 263], xDomain: [-2500, 52500], yDomain: [-1.1, 1.1],
    steps: ppoSteps, bandSteps: ppoBandSteps, lineWidth: 2.1,
    legend: { x: 1169.3, y: 205.7 },
    series: series(ppoPotLabels, kColors,
      [ppoPot_12, ppoPot_11, ppoPot_105, ppoPot_103, ppoPot_101],
      [ppoPot_12_lo, ppoPot_11_lo, ppoPot_105_lo, ppoPot_103_lo, ppoPot_101_lo],
      [ppoPot_12_hi, ppoPot_11_hi, ppoPot_105_hi, ppoPot_103_hi, ppoPot_101_hi])
  },
  {
    title: ["Attacker trained with A2C for", " varying K, potential 1.1"],
    box: [58.3, 398.3, 360, 263], xDomain: [-1975, 52475], yDomain: [-1.1, 1.1],
    steps: a2cSteps, bandSteps: a2cBandSteps, lineWidth: 1.6,
    legend: { x: 64.3, y: 484 },
    series: series(kLabels, kColors,
      [a2c11_k5, a2c11_k10, a2c11_k15, a2c11_k20, a2c11_k25],
      [a2c11_k5_lo, a2c11_k10_lo, a2c11_k15_lo, a2c11_k20_lo, a2c11_k25_lo],
      [a2c11_k5_hi, a2c11_k10_hi, a2c11_k15_hi, a2c11_k20_hi, a2c11_k25_hi])
  },
  {
    title: ["Attacker trained with A2C for", " varying K, potential 1.05"],
    box: [487.3, 398.3, 360, 263], xDomain: [-1870, 52470], yDomain: [-1.099, 1.079],
    steps: a2cSteps, bandSteps: a2cBandSteps, lineWidth: 1.6,
    legend: { x: 493.3, y: 484 },
    series: series(kLabels, kColors,
      [a2c105_k5, a2c105_k10, a2c105_k15, a2c105_k20, a2c105_k25],
      [a2c105_k5_lo, a2c105_k10_lo, a2c105_k15_lo, a2c105_k20_lo, a2c105_k25_lo],
      [a2c105_k5_hi, a2c105_k10_hi, a2c105_k15_hi, a2c105_k20_hi, a2c105_k25_hi])
  },
  {
    title: ["Attacker trained with A2C for", " varying potential, K=10"],
    box: [915.3, 398.3, 360.4, 263], xDomain: [-1975, 52475], yDomain: [-1.1, 1.1],
    steps: a2cSteps, bandSteps: a2cBandSteps, lineWidth: 1.6,
    legend: { x: 1169.3, y: 404.3 },
    series: series(a2cPotLabels, [C.blue, C.orange, C.green],
      [a2cPot_12, a2cPot_105, a2cPot_101],
      [a2cPot_12_lo, a2cPot_105_lo, a2cPot_101_lo],
      [a2cPot_12_hi, a2cPot_105_hi, a2cPot_101_hi])
  }
];

// ---- drawing ----
const svg = d3.select("#chart");
const fmtY = d => (d < 0 ? "\u2212" : "") + Math.abs(d).toFixed(2);

panels.forEach(p => {
  const [left, top, width, height] = p.box;
  const x = d3.scaleLinear().domain(p.xDomain).range([left, left + width]);
  const y = d3.scaleLinear().domain(p.yDomain).range([top + height, top]);
  const g = svg.append("g");

  // shaded min/max bands
  p.series.forEach(s => {
    const area = d3.area()
      .x((d, i) => x(p.bandSteps[i]))
      .y0(d => y(d[0]))
      .y1(d => y(d[1]));
    g.append("path")
      .datum(d3.zip(s.lo, s.hi))
      .attr("d", area)
      .attr("fill", s.color)
      .attr("fill-opacity", 0.2)
      .attr("stroke", "none");
  });

  // grid
  const grid = g.append("g").attr("stroke", "#b8b8b8").attr("stroke-width", 1.4);
  xTicks.forEach(t => grid.append("line")
    .attr("x1", x(t)).attr("x2", x(t)).attr("y1", top).attr("y2", top + height));
  yTicks.forEach(t => grid.append("line")
    .attr("x1", left).attr("x2", left + width).attr("y1", y(t)).attr("y2", y(t)));

  // mean curves
  p.series.forEach(s => {
    const line = d3.line().x((d, i) => x(p.steps[i])).y(d => y(d));
    g.append("path")
      .datum(s.mean)
      .attr("d", line)
      .attr("fill", "none")
      .attr("stroke", s.color)
      .attr("stroke-width", p.lineWidth)
      .attr("stroke-linejoin", "round");
  });

  // frame
  g.append("rect")
    .attr("x", left).attr("y", top).attr("width", width).attr("height", height)
    .attr("fill", "none").attr("stroke", "#000").attr("stroke-width", 1.1);

  // axes
  const xAxis = g.append("g").attr("transform", `translate(0,${top + height})`)
    .call(d3.axisBottom(x).tickValues(xTicks).tickSize(3.5).tickPadding(2.5).tickFormat(d3.format("d")));
  const yAxis = g.append("g").attr("transform", `translate(${left},0)`)
    .call(d3.axisLeft(y).tickValues(yTicks).tickSize(3.5).tickPadding(2.3).tickFormat(fmtY));
  [xAxis, yAxis].forEach(a => {
    a.select(".domain").remove();
    a.selectAll("line").attr("stroke", "#000").attr("stroke-width", 0.9);
    a.selectAll("text").attr("fill", "#111").style("font-size", "7.5px")
      .style("font-family", "'DejaVu Sans', sans-serif");
  });

  // titles and labels
  const cx = left + width / 2;
  p.title.forEach((t, i) => {
    g.append("text")
      .attr("x", cx).attr("y", top - 22.7 + i * 17.7)
      .attr("text-anchor", "middle")
      .style("font-size", "16px").style("white-space", "pre")
      .attr("fill", "#000")
      .text(t);
  });
  g.append("text")
    .attr("x", cx).attr("y", top + height + 28)
    .attr("text-anchor", "middle")
    .style("font-size", "16px").attr("fill", "#000")
    .text("Training steps");
  g.append("text")
    .attr("transform", `translate(${left - 36.8},${top + height / 2}) rotate(-90)`)
    .attr("text-anchor", "middle")
    .style("font-size", "16px").attr("fill", "#000")
    .text("Average Reward");

  // legend
  const n = p.series.length;
  const lw = 100 * 0 + (p.series[0].label.startsWith("pot") ? 100 : 77);
  const lh = 20 + (n - 1) * 17.9;
  const lg = g.append("g").attr("transform", `translate(${p.legend.x},${p.legend.y})`);
  lg.append("rect")
    .attr("width", lw).attr("height", lh).attr("rx", 2.5)
    .attr("fill", "#fff").attr("fill-opacity", 0.8)
    .attr("stroke", "#cccccc").attr("stroke-width", 1);
  p.series.forEach((s, i) => {
    const cy = 9.4 + i * 17.9;
    lg.append("line")
      .attr("x1", 4.5).attr("x2", 30).attr("y1", cy).attr("y2", cy)
      .attr("stroke", s.color).attr("stroke-width", p.lineWidth);
    lg.append("text")
      .attr("x", 39.5).attr("y", cy + 4.4)
      .style("font-size", "12px").attr("fill", "#000")
      .text(s.label);
  });
});
</script>
</body>
</html>
